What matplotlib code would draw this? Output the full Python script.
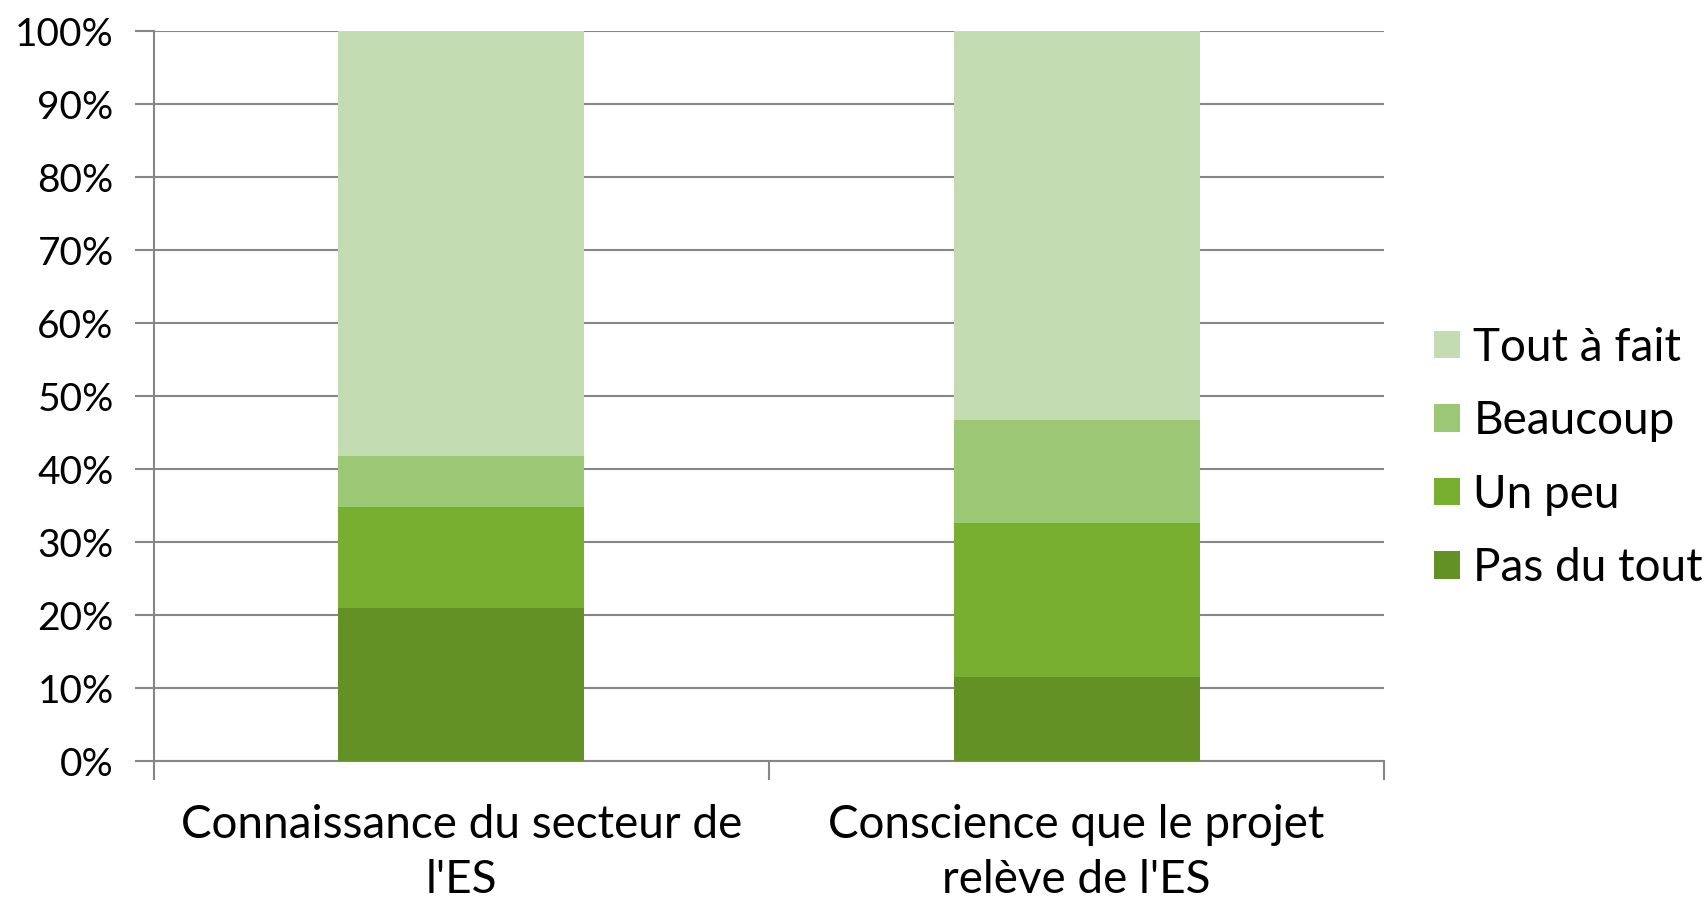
import matplotlib.pyplot as plt
import numpy as np

categories = ["Connaissance du secteur de\nl'ES", "Conscience que le projet\nrelève de l'ES"]
series = ['Pas du tout', 'Un peu', 'Beaucoup', 'Tout à fait']
pas_du_tout = [20.9, 11.5]
un_peu = [13.9, 21.0]
beaucoup = [7.0, 14.0]
tout_a_fait = [58.2, 53.0]
colors = ['#639126', '#78AF30', '#9CC774', '#C4DCB2']

plt.rcParams['font.family'] = ['Lato', 'DejaVu Sans']

fig = plt.figure(figsize=(17.07, 8.99), dpi=100)
ax = fig.add_axes([0.0902, 0.1535, 0.7206, 0.812])

x = np.arange(len(categories))
values = [pas_du_tout, un_peu, beaucoup, tout_a_fait]
totals = np.sum(values, axis=0)
bottom = np.zeros(len(categories))
handles = []
for name, vals, c in zip(series, values, colors):
    pct = np.array(vals) / totals * 100
    h = ax.bar(x, pct, 0.4, bottom=bottom, color=c, label=name, zorder=3)
    handles.append(h)
    bottom += pct

ax.set_xlim(-0.5, 1.5)
ax.set_ylim(0, 100)
ax.set_yticks(np.arange(0, 101, 10))
ax.set_yticklabels([f'{v}%' for v in range(0, 101, 10)], fontsize=28)
ax.yaxis.grid(True, color='#868686', linewidth=1.5, zorder=0)

ax.set_xticks([-0.5, 0.5, 1.5])
ax.set_xticklabels([])
ax.set_xticks(x, minor=True)
ax.set_xticklabels(categories, minor=True, fontsize=33, linespacing=1.38)
ax.tick_params(axis='x', which='minor', length=0, pad=31)
ax.tick_params(axis='x', which='major', length=14, width=1.5, color='#868686')
ax.tick_params(axis='y', length=14, width=1.5, color='#868686', pad=15)

for s in ['top', 'right']:
    ax.spines[s].set_visible(False)
for s in ['left', 'bottom']:
    ax.spines[s].set_color('#868686')
    ax.spines[s].set_linewidth(1.5)

ax.legend(handles[::-1], series[::-1], loc='center left', bbox_to_anchor=(1.0, 0.415),
          frameon=False, fontsize=33, handlelength=0.55, handleheight=0.55,
          handletextpad=0.3, labelspacing=0.69, borderaxespad=0.7)

fig.savefig('out.png', dpi=100)
